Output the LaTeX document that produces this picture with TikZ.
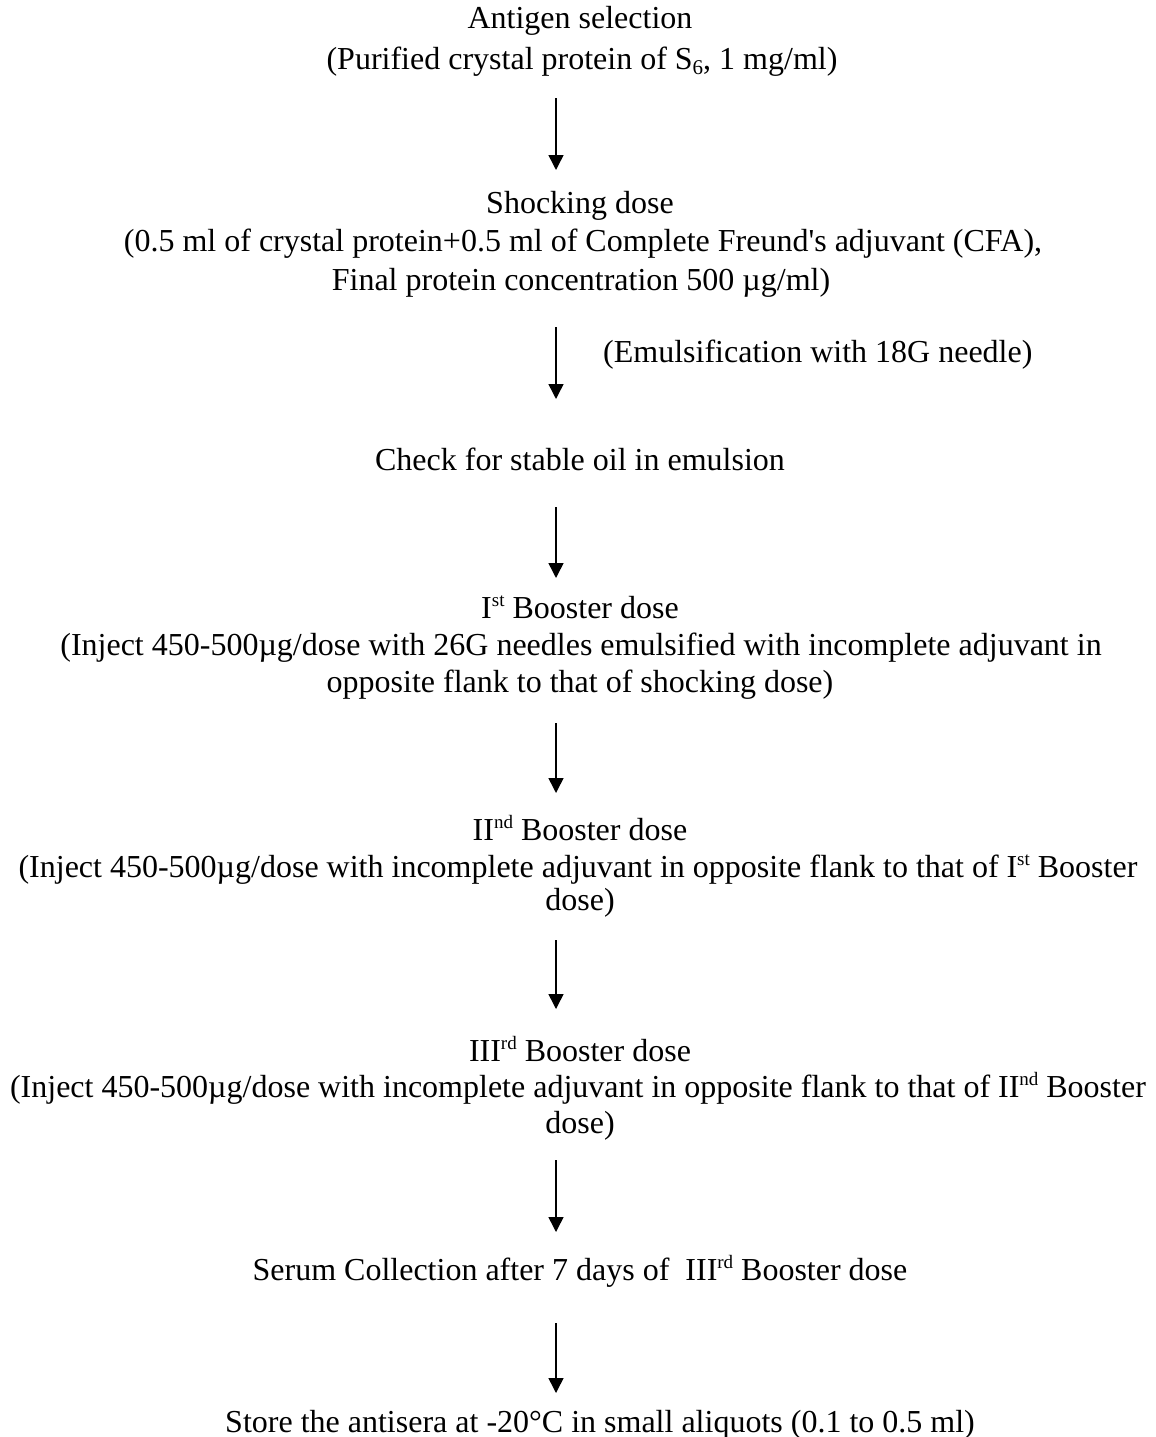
\documentclass[tikz,border=0pt]{standalone}
\usepackage{fontspec}
\setmainfont{Liberation Serif}
\usetikzlibrary{arrows.meta}
\newcommand\myup[1]{\raisebox{0.36em}{\fontsize{19}{19}\selectfont #1}}
\newcommand\mydown[1]{\raisebox{-0.14em}{\fontsize{21}{21}\selectfont #1}}
\tikzset{
  txt/.style={anchor=base, inner sep=0pt, align=center, font=\fontsize{32}{38}\selectfont},
  arr/.style={line width=1.5pt, -{Triangle[width=15pt,length=15pt]}}
}
\begin{document}
\begin{tikzpicture}[x=1pt,y=-1pt]
\useasboundingbox (0,0) rectangle (1156,1437);
% steps
\node[txt] (s1a) at (580,29) {Antigen selection};
\node[txt] (s1b) at (582,70) {(Purified crystal protein of S\mydown{6}, 1 mg/ml)};
\node[txt] (s2a) at (580,213) {Shocking dose};
\node[txt] (s2b) at (583,251) {(0.5 ml of crystal protein+0.5 ml of Complete Freund\textquotesingle s adjuvant (CFA),};
\node[txt] (s2c) at (581,290) {Final protein concentration 500 µg/ml)};
\node[txt, anchor=base west] (lab) at (603,362) {(Emulsification with 18G needle)};
\node[txt] (s3) at (580,470) {Check for stable oil in emulsion};
\node[txt] (s4a) at (580,618) {I\myup{st} Booster dose};
\node[txt] (s4b) at (581,655) {(Inject 450-500µg/dose with 26G needles emulsified with incomplete adjuvant in};
\node[txt] (s4c) at (580,692) {opposite flank to that of shocking dose)};
\node[txt] (s5a) at (580,840) {II\myup{nd} Booster dose};
\node[txt] (s5b) at (578,877) {(Inject 450-500µg/dose with incomplete adjuvant in opposite flank to that of I\myup{st} Booster};
\node[txt] (s5c) at (580,910) {dose)};
\node[txt] (s6a) at (580,1061) {III\myup{rd} Booster dose};
\node[txt] (s6b) at (578,1097) {(Inject 450-500µg/dose with incomplete adjuvant in opposite flank to that of II\myup{nd} Booster};
\node[txt] (s6c) at (580,1133) {dose)};
\node[txt] (s7) at (580,1280) {Serum Collection after 7 days of\ \ III\myup{rd} Booster dose};
\node[txt] (s8) at (600,1432) {Store the antisera at -20°C in small aliquots (0.1 to 0.5 ml)};
% arrow ends
\coordinate (a1) at (556,98);  \coordinate (b1) at (556,170);
\coordinate (a2) at (556,327); \coordinate (b2) at (556,399);
\coordinate (a3) at (556,507); \coordinate (b3) at (556,578);
\coordinate (a4) at (556,723); \coordinate (b4) at (556,793);
\coordinate (a5) at (556,940); \coordinate (b5) at (556,1009);
\coordinate (a6) at (556,1160); \coordinate (b6) at (556,1232);
\coordinate (a7) at (556,1323); \coordinate (b7) at (556,1393);
\foreach \i in {1,...,7} { \draw[arr] (a\i) -- (b\i); }
\end{tikzpicture}
\end{document}
